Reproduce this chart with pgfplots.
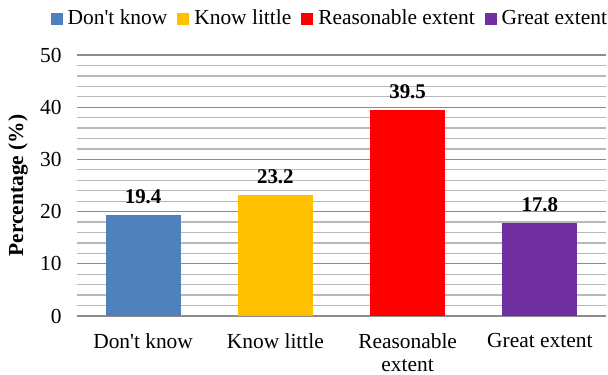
\documentclass[border=0pt]{standalone}
\usepackage{pgfplots}
\pgfplotsset{compat=1.18}
\usepackage{fontspec}
\setmainfont{Liberation Serif}
\definecolor{cblue}{HTML}{4F81BD}
\definecolor{cyellow}{HTML}{FFC000}
\definecolor{cred}{HTML}{FF0000}
\definecolor{cpurple}{HTML}{7030A0}
\newcommand{\ap}{\textquotesingle}
\begin{document}
\fontsize{21.5}{24}\selectfont
\begin{tikzpicture}
\path[use as bounding box] (-77bp,-59bp) rectangle (531bp,316bp);
\begin{axis}[
  at={(0,0)}, anchor=south west,
  scale only axis, width=529bp, height=261bp,
  ybar, bar width=75bp, bar shift=0pt,
  xmin=-0.5, xmax=3.5, ymin=0, ymax=50,
  xtick={0,1,2,3},
  xticklabels={Don\ap t know, Know little, {Reasonable\\extent}, Great extent},
  xticklabel style={align=center, font=\rmfamily\fontsize{21.5}{23}\selectfont, yshift=-10bp},
  ytick={0,10,20,30,40,50},
  minor ytick={2,4,6,8,12,14,16,18,22,24,26,28,32,34,36,38,42,44,46,48},
  yticklabel style={font=\rmfamily\fontsize{21.5}{24}\selectfont, xshift=-8bp},
  /pgf/number format/assume math mode=true,
  ymajorgrids, yminorgrids,
  major grid style={draw=black!45, line width=1.3pt},
  minor grid style={draw=black!28, line width=1.3pt},
  major tick length=0pt, minor tick length=0pt,
  axis x line*=bottom, axis y line*=left,
  x axis line style={draw=black!45, line width=1.3pt},
  y axis line style={draw=none},
  ylabel={\textbf{Percentage (\%)}},
  every axis y label/.style={at={(axis description cs:-0.1115,0.5)}, rotate=90, anchor=center, font=\rmfamily\fontsize{21.5}{24}\selectfont},
  nodes near coords,
  every node near coord/.append style={font=\rmfamily\fontsize{21}{24}\selectfont\bfseries, yshift=4bp},
  legend columns=4,
  legend style={at={(0.478,1.188)}, anchor=north, draw=none, fill=none,
    font=\rmfamily\fontsize{21.5}{24}\selectfont,
    /tikz/every odd column/.append style={column sep=3bp},
    /tikz/every even column/.append style={column sep=8bp}},
  legend image code/.code={\fill[#1] (0bp,-6bp) rectangle (12bp,6bp);},
  clip=false,
]
\addplot[fill=cblue, draw=none] coordinates {(0,19.4)};
\addlegendentry{Don\ap t know}
\addplot[fill=cyellow, draw=none] coordinates {(1,23.2)};
\addlegendentry{Know little}
\addplot[fill=cred, draw=none] coordinates {(2,39.5)};
\addlegendentry{Reasonable extent}
\addplot[fill=cpurple, draw=none] coordinates {(3,17.8)};
\addlegendentry{Great extent}
\end{axis}
\end{tikzpicture}
\end{document}
